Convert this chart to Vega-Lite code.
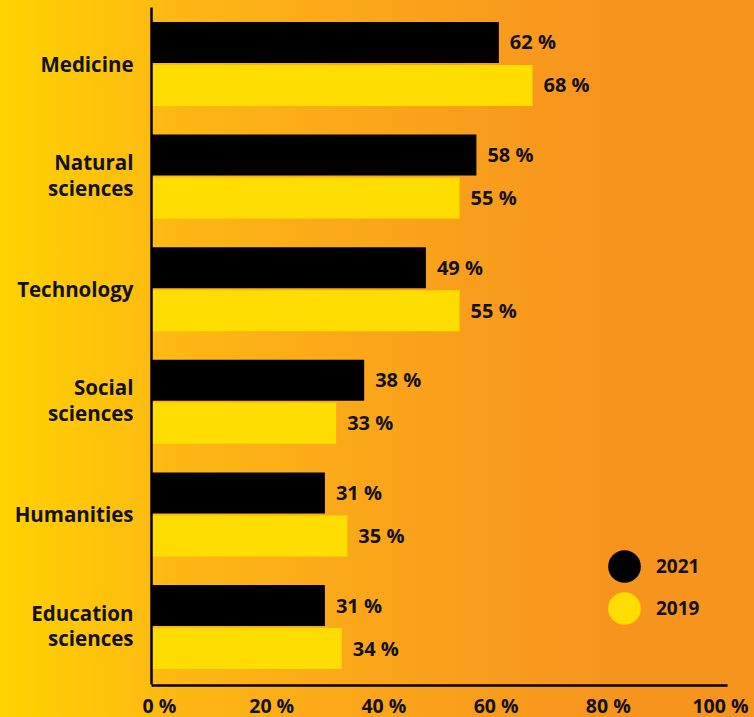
{
  "$schema": "https://vega.github.io/schema/vega-lite/v6.json",
  "width": 754,
  "height": 717,
  "autosize": {"type": "none"},
  "padding": 0,
  "config": {
    "view": {"stroke": null},
    "font": "Open Sans"
  },
  "layer": [
    {
      "data": {"values": [{"bg": 1}]},
      "mark": {
        "type": "rect",
        "fill": {
          "gradient": "linear",
          "x1": 0, "y1": 0, "x2": 1, "y2": 0,
          "stops": [
            {"offset": 0, "color": "#FFD200"},
            {"offset": 0.25, "color": "#FDB614"},
            {"offset": 0.55, "color": "#FAA21B"},
            {"offset": 0.8, "color": "#F7941E"},
            {"offset": 1, "color": "#F7941E"}
          ]
        }
      },
      "encoding": {}
    },
    {
      "data": {
        "values": [
          {"field": "Medicine", "year": "2021", "value": 62},
          {"field": "Medicine", "year": "2019", "value": 68},
          {"field": "Natural sciences", "year": "2021", "value": 58},
          {"field": "Natural sciences", "year": "2019", "value": 55},
          {"field": "Technology", "year": "2021", "value": 49},
          {"field": "Technology", "year": "2019", "value": 55},
          {"field": "Social sciences", "year": "2021", "value": 38},
          {"field": "Social sciences", "year": "2019", "value": 33},
          {"field": "Humanities", "year": "2021", "value": 31},
          {"field": "Humanities", "year": "2019", "value": 35},
          {"field": "Education sciences", "year": "2021", "value": 31},
          {"field": "Education sciences", "year": "2019", "value": 34}
        ]
      },
      "encoding": {
        "y": {
          "field": "field",
          "type": "nominal",
          "sort": null,
          "scale": {"range": [7, 684], "paddingInner": 0.254, "paddingOuter": 0.133},
          "axis": {
            "title": null,
            "zindex": 2,
            "offset": -151,
            "domainColor": "#000000",
            "domainWidth": 2.5,
            "ticks": false,
            "labelPadding": 18,
            "labelFontSize": 20.5,
            "labelFontWeight": "bold",
            "labelColor": "#111111",
            "labelLineHeight": 25.5,
            "labelOffset": {"condition": {"test": "indexof(datum.value, ' ') >= 0", "value": -12.5}, "value": 2},
            "labelExpr": "split(datum.label, ' ')"
          }
        },
        "yOffset": {
          "field": "year",
          "type": "nominal",
          "sort": ["2021", "2019"],
          "scale": {"paddingInner": 0.0465, "paddingOuter": 0}
        },
        "x": {
          "field": "value",
          "type": "quantitative",
          "scale": {"range": [151, 727], "domain": [0, 102.67], "nice": false, "zero": true},
          "axis": {
            "title": null,
            "zindex": 2,
            "offset": -32,
            "values": [0, 20, 40, 60, 80, 100],
            "labelExpr": "datum.value + ' %'",
            "domainColor": "#000000",
            "domainWidth": 2.5,
            "ticks": false,
            "grid": false,
            "labelPadding": 12,
            "labelOffset": 8,
            "labelFontSize": 19.5,
            "labelFontWeight": "bold",
            "labelColor": "#111111",
            "labelFlush": false,
            "labelOverlap": false
          }
        }
      },
      "layer": [
        {
          "mark": {"type": "bar"},
          "encoding": {
            "color": {
              "field": "year",
              "type": "nominal",
              "sort": ["2021", "2019"],
              "scale": {"domain": ["2021", "2019"], "range": ["#000000", "#FFDD00"]},
              "legend": {
                "title": null,
                "orient": "none",
                "legendX": 608,
                "legendY": 550,
                "symbolType": "circle",
                "symbolSize": 1070,
                "symbolStrokeWidth": 0,
                "symbolOpacity": 1,
                "labelFontSize": 19,
                "labelFontWeight": "bold",
                "labelColor": "#111111",
                "labelOffset": 15,
                "rowPadding": 9,
                "padding": 0
              }
            }
          }
        },
        {
          "mark": {
            "type": "text",
            "align": "left",
            "baseline": "middle",
            "dx": 11,
            "dy": 1,
            "fontSize": 20,
            "fontWeight": "bold",
            "color": "#111111",
            "text": {"expr": "datum.value + ' %'"}
          }
        }
      ]
    }
  ]
}
